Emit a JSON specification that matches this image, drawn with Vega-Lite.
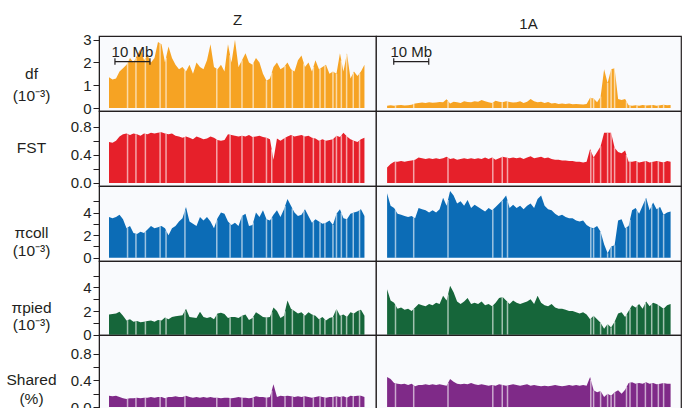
{
"$schema":"https://vega.github.io/schema/vega-lite/v6.json",
"padding":{"left":5,"top":12,"right":5,"bottom":0},
"columns":2,"spacing":0,"bounds":"flush",
"config":{
 "view":{"stroke":"#231f20","strokeWidth":1.2,"fill":"#f9fafd"},
 "axis":{"labelFont":"Liberation Sans","titleFont":"Liberation Sans","labelFontSize":15,"labelColor":"#231f20","tickColor":"#231f20","domainColor":"#231f20","tickSize":6,"labelPadding":2,"grid":false,"labelFlush":false,"labelOverlap":false,"labelBound":false,"titleFontWeight":"normal","titleFontSize":15.5,"titleColor":"#231f20","titleAngle":0,"titleAlign":"center","titleBaseline":"middle","titleX":-68},
 "title":{"font":"Liberation Sans","fontSize":15,"fontWeight":"normal","color":"#231f20","offset":4.5}
},
"datasets":{
"Z":[
{"x":0,"df":1.35,"fst":0.58,"pc":3.6,"pp":1.7,"sh":0.17},
{"x":1,"df":1.25,"fst":0.57,"pc":3.5,"pp":1.75,"sh":0.16},
{"x":2,"df":1.3,"fst":0.6,"pc":3.6,"pp":1.8,"sh":0.17},
{"x":3,"df":1.6,"fst":0.66,"pc":3.8,"pp":1.95,"sh":0.15},
{"x":4,"df":1.75,"fst":0.69,"pc":3.4,"pp":1.6,"sh":0.13},
{"x":5,"df":1.9,"fst":0.7,"pc":2.6,"pp":1.2,"sh":0.12},
{"x":6,"df":2.2,"fst":0.68,"pc":2.8,"pp":1.3,"sh":0.13},
{"x":7,"df":2.0,"fst":0.7,"pc":2.2,"pp":1.1,"sh":0.13},
{"x":8,"df":2.3,"fst":0.69,"pc":2.1,"pp":1.15,"sh":0.14},
{"x":9,"df":2.6,"fst":0.67,"pc":2.3,"pp":1.05,"sh":0.13},
{"x":10,"df":2.1,"fst":0.7,"pc":2.2,"pp":1.1,"sh":0.14},
{"x":11,"df":2.3,"fst":0.69,"pc":2.5,"pp":1.15,"sh":0.14},
{"x":12,"df":2.0,"fst":0.71,"pc":2.8,"pp":1.2,"sh":0.15},
{"x":13,"df":2.2,"fst":0.7,"pc":2.6,"pp":1.1,"sh":0.14},
{"x":14,"df":2.9,"fst":0.71,"pc":2.7,"pp":1.25,"sh":0.15},
{"x":15,"df":2.8,"fst":0.72,"pc":2.8,"pp":1.2,"sh":0.15},
{"x":16,"df":2.0,"fst":0.7,"pc":2.6,"pp":1.45,"sh":0.13},
{"x":17,"df":2.7,"fst":0.69,"pc":2.0,"pp":1.3,"sh":0.15},
{"x":18,"df":2.2,"fst":0.7,"pc":2.6,"pp":1.5,"sh":0.15},
{"x":19,"df":1.9,"fst":0.67,"pc":2.8,"pp":1.55,"sh":0.16},
{"x":20,"df":1.7,"fst":0.66,"pc":3.2,"pp":1.6,"sh":0.15},
{"x":21,"df":1.8,"fst":0.64,"pc":3.5,"pp":1.65,"sh":0.15},
{"x":22,"df":1.6,"fst":0.66,"pc":4.5,"pp":2.2,"sh":0.17},
{"x":23,"df":1.9,"fst":0.64,"pc":3.2,"pp":1.5,"sh":0.15},
{"x":24,"df":1.5,"fst":0.62,"pc":3.0,"pp":1.45,"sh":0.14},
{"x":25,"df":2.0,"fst":0.66,"pc":2.8,"pp":1.4,"sh":0.15},
{"x":26,"df":1.8,"fst":0.64,"pc":3.6,"pp":1.95,"sh":0.14},
{"x":27,"df":1.7,"fst":0.62,"pc":3.3,"pp":1.5,"sh":0.15},
{"x":28,"df":2.1,"fst":0.63,"pc":3.6,"pp":1.4,"sh":0.14},
{"x":29,"df":2.8,"fst":0.66,"pc":3.2,"pp":1.5,"sh":0.15},
{"x":30,"df":1.8,"fst":0.64,"pc":2.6,"pp":1.3,"sh":0.14},
{"x":31,"df":1.7,"fst":0.61,"pc":3.5,"pp":1.8,"sh":0.14},
{"x":32,"df":1.9,"fst":0.6,"pc":4.0,"pp":1.85,"sh":0.13},
{"x":33,"df":1.6,"fst":0.61,"pc":3.9,"pp":1.75,"sh":0.14},
{"x":34,"df":2.8,"fst":0.69,"pc":3.2,"pp":1.4,"sh":0.14},
{"x":35,"df":2.0,"fst":0.68,"pc":2.9,"pp":1.5,"sh":0.13},
{"x":36,"df":3.0,"fst":0.67,"pc":3.1,"pp":1.5,"sh":0.14},
{"x":37,"df":1.8,"fst":0.66,"pc":2.8,"pp":1.4,"sh":0.15},
{"x":38,"df":2.1,"fst":0.67,"pc":3.7,"pp":1.6,"sh":0.14},
{"x":39,"df":2.4,"fst":0.66,"pc":3.9,"pp":1.7,"sh":0.14},
{"x":40,"df":2.0,"fst":0.68,"pc":2.8,"pp":1.25,"sh":0.13},
{"x":41,"df":1.9,"fst":0.65,"pc":2.9,"pp":1.4,"sh":0.14},
{"x":42,"df":2.2,"fst":0.66,"pc":4.0,"pp":1.9,"sh":0.16},
{"x":43,"df":2.0,"fst":0.67,"pc":3.6,"pp":1.7,"sh":0.15},
{"x":44,"df":1.5,"fst":0.65,"pc":4.2,"pp":1.5,"sh":0.15},
{"x":45,"df":1.2,"fst":0.64,"pc":3.4,"pp":1.45,"sh":0.14},
{"x":46,"df":1.3,"fst":0.62,"pc":3.3,"pp":1.5,"sh":0.15},
{"x":47,"df":1.8,"fst":0.33,"pc":3.8,"pp":2.3,"sh":0.34},
{"x":48,"df":2.0,"fst":0.63,"pc":4.2,"pp":2.0,"sh":0.15},
{"x":49,"df":1.7,"fst":0.6,"pc":3.6,"pp":1.4,"sh":0.17},
{"x":50,"df":1.8,"fst":0.63,"pc":4.3,"pp":1.6,"sh":0.16},
{"x":51,"df":2.0,"fst":0.66,"pc":5.2,"pp":2.9,"sh":0.17},
{"x":52,"df":1.7,"fst":0.68,"pc":4.6,"pp":2.2,"sh":0.16},
{"x":53,"df":1.6,"fst":0.66,"pc":4.0,"pp":2.0,"sh":0.15},
{"x":54,"df":2.1,"fst":0.67,"pc":3.7,"pp":1.8,"sh":0.16},
{"x":55,"df":2.3,"fst":0.68,"pc":3.8,"pp":1.9,"sh":0.15},
{"x":56,"df":1.8,"fst":0.66,"pc":4.3,"pp":1.6,"sh":0.16},
{"x":57,"df":2.0,"fst":0.67,"pc":3.7,"pp":1.9,"sh":0.15},
{"x":58,"df":1.6,"fst":0.64,"pc":3.1,"pp":1.7,"sh":0.14},
{"x":59,"df":2.1,"fst":0.63,"pc":3.4,"pp":1.6,"sh":0.15},
{"x":60,"df":1.7,"fst":0.6,"pc":3.2,"pp":1.3,"sh":0.16},
{"x":61,"df":1.8,"fst":0.62,"pc":3.0,"pp":1.5,"sh":0.15},
{"x":62,"df":1.9,"fst":0.6,"pc":3.1,"pp":1.2,"sh":0.14},
{"x":63,"df":1.5,"fst":0.61,"pc":3.3,"pp":1.4,"sh":0.15},
{"x":64,"df":1.6,"fst":0.62,"pc":2.9,"pp":1.5,"sh":0.15},
{"x":65,"df":1.5,"fst":0.67,"pc":3.9,"pp":2.2,"sh":0.16},
{"x":66,"df":2.4,"fst":0.65,"pc":4.3,"pp":1.6,"sh":0.15},
{"x":67,"df":1.6,"fst":0.71,"pc":3.5,"pp":1.7,"sh":0.16},
{"x":68,"df":2.4,"fst":0.66,"pc":3.4,"pp":1.5,"sh":0.14},
{"x":69,"df":1.3,"fst":0.62,"pc":3.9,"pp":1.9,"sh":0.17},
{"x":70,"df":1.6,"fst":0.6,"pc":4.0,"pp":1.8,"sh":0.16},
{"x":71,"df":1.4,"fst":0.58,"pc":4.1,"pp":2.0,"sh":0.17},
{"x":72,"df":1.6,"fst":0.62,"pc":4.3,"pp":2.1,"sh":0.17},
{"x":73,"df":1.9,"fst":0.64,"pc":3.7,"pp":1.6,"sh":0.15}
],
"A":[
{"x":0,"df":0.1,"fst":0.22,"pc":5.7,"pp":3.85,"sh":0.45},
{"x":1,"df":0.12,"fst":0.27,"pc":4.6,"pp":2.9,"sh":0.42},
{"x":2,"df":0.1,"fst":0.3,"pc":4.4,"pp":2.7,"sh":0.36},
{"x":3,"df":0.12,"fst":0.3,"pc":3.9,"pp":2.2,"sh":0.35},
{"x":4,"df":0.13,"fst":0.31,"pc":3.8,"pp":2.3,"sh":0.34},
{"x":5,"df":0.11,"fst":0.3,"pc":3.7,"pp":2.1,"sh":0.35},
{"x":6,"df":0.12,"fst":0.31,"pc":3.6,"pp":2.2,"sh":0.33},
{"x":7,"df":0.14,"fst":0.32,"pc":3.7,"pp":2.0,"sh":0.35},
{"x":8,"df":0.2,"fst":0.33,"pc":3.5,"pp":2.3,"sh":0.31},
{"x":9,"df":0.22,"fst":0.36,"pc":4.4,"pp":2.6,"sh":0.33},
{"x":10,"df":0.24,"fst":0.35,"pc":4.3,"pp":2.5,"sh":0.33},
{"x":11,"df":0.22,"fst":0.34,"pc":4.2,"pp":2.4,"sh":0.34},
{"x":12,"df":0.25,"fst":0.35,"pc":4.0,"pp":2.6,"sh":0.33},
{"x":13,"df":0.23,"fst":0.34,"pc":4.2,"pp":2.5,"sh":0.34},
{"x":14,"df":0.24,"fst":0.35,"pc":4.0,"pp":2.7,"sh":0.33},
{"x":15,"df":0.26,"fst":0.34,"pc":4.3,"pp":2.6,"sh":0.34},
{"x":16,"df":0.25,"fst":0.35,"pc":5.3,"pp":3.3,"sh":0.33},
{"x":17,"df":0.38,"fst":0.37,"pc":4.6,"pp":2.9,"sh":0.32},
{"x":18,"df":0.2,"fst":0.34,"pc":5.9,"pp":4.15,"sh":0.42},
{"x":19,"df":0.28,"fst":0.35,"pc":5.5,"pp":3.6,"sh":0.38},
{"x":20,"df":0.25,"fst":0.33,"pc":4.8,"pp":2.8,"sh":0.35},
{"x":21,"df":0.22,"fst":0.34,"pc":5.0,"pp":2.6,"sh":0.34},
{"x":22,"df":0.3,"fst":0.35,"pc":4.6,"pp":2.8,"sh":0.35},
{"x":23,"df":0.27,"fst":0.34,"pc":5.1,"pp":3.1,"sh":0.34},
{"x":24,"df":0.25,"fst":0.35,"pc":4.4,"pp":2.6,"sh":0.36},
{"x":25,"df":0.3,"fst":0.34,"pc":4.7,"pp":2.7,"sh":0.34},
{"x":26,"df":0.28,"fst":0.35,"pc":4.5,"pp":2.6,"sh":0.33},
{"x":27,"df":0.35,"fst":0.34,"pc":4.3,"pp":2.8,"sh":0.34},
{"x":28,"df":0.3,"fst":0.36,"pc":4.1,"pp":2.5,"sh":0.33},
{"x":29,"df":0.25,"fst":0.34,"pc":4.4,"pp":2.6,"sh":0.32},
{"x":30,"df":0.22,"fst":0.36,"pc":4.2,"pp":2.4,"sh":0.33},
{"x":31,"df":0.32,"fst":0.33,"pc":4.5,"pp":2.7,"sh":0.32},
{"x":32,"df":0.28,"fst":0.35,"pc":4.8,"pp":3.1,"sh":0.34},
{"x":33,"df":0.25,"fst":0.37,"pc":5.1,"pp":3.2,"sh":0.33},
{"x":34,"df":0.3,"fst":0.36,"pc":5.5,"pp":2.9,"sh":0.32},
{"x":35,"df":0.27,"fst":0.35,"pc":4.4,"pp":2.6,"sh":0.33},
{"x":36,"df":0.24,"fst":0.36,"pc":4.7,"pp":2.9,"sh":0.34},
{"x":37,"df":0.25,"fst":0.35,"pc":4.4,"pp":2.7,"sh":0.33},
{"x":38,"df":0.3,"fst":0.36,"pc":4.6,"pp":2.6,"sh":0.32},
{"x":39,"df":0.22,"fst":0.34,"pc":4.3,"pp":2.7,"sh":0.33},
{"x":40,"df":0.28,"fst":0.36,"pc":4.6,"pp":2.8,"sh":0.34},
{"x":41,"df":0.4,"fst":0.38,"pc":4.8,"pp":3.0,"sh":0.32},
{"x":42,"df":0.3,"fst":0.35,"pc":4.4,"pp":2.6,"sh":0.33},
{"x":43,"df":0.25,"fst":0.36,"pc":5.2,"pp":3.3,"sh":0.32},
{"x":44,"df":0.28,"fst":0.37,"pc":5.5,"pp":2.7,"sh":0.31},
{"x":45,"df":0.22,"fst":0.35,"pc":4.6,"pp":2.5,"sh":0.32},
{"x":46,"df":0.26,"fst":0.36,"pc":4.3,"pp":2.4,"sh":0.31},
{"x":47,"df":0.2,"fst":0.34,"pc":4.2,"pp":2.6,"sh":0.32},
{"x":48,"df":0.22,"fst":0.33,"pc":3.9,"pp":2.3,"sh":0.33},
{"x":49,"df":0.18,"fst":0.33,"pc":3.7,"pp":2.2,"sh":0.32},
{"x":50,"df":0.2,"fst":0.32,"pc":3.8,"pp":2.2,"sh":0.31},
{"x":51,"df":0.18,"fst":0.32,"pc":3.6,"pp":2.1,"sh":0.32},
{"x":52,"df":0.2,"fst":0.31,"pc":3.5,"pp":2.0,"sh":0.33},
{"x":53,"df":0.17,"fst":0.31,"pc":3.5,"pp":2.0,"sh":0.32},
{"x":54,"df":0.18,"fst":0.3,"pc":3.3,"pp":1.9,"sh":0.33},
{"x":55,"df":0.17,"fst":0.3,"pc":3.2,"pp":1.8,"sh":0.32},
{"x":56,"df":0.16,"fst":0.29,"pc":3.3,"pp":1.9,"sh":0.33},
{"x":57,"df":0.18,"fst":0.3,"pc":2.9,"pp":1.7,"sh":0.32},
{"x":58,"df":0.45,"fst":0.48,"pc":2.7,"pp":1.3,"sh":0.45},
{"x":59,"df":0.42,"fst":0.36,"pc":2.6,"pp":1.6,"sh":0.25},
{"x":60,"df":0.25,"fst":0.44,"pc":2.8,"pp":1.3,"sh":0.22},
{"x":61,"df":0.5,"fst":0.52,"pc":2.3,"pp":1.0,"sh":0.24},
{"x":62,"df":1.7,"fst":0.71,"pc":1.2,"pp":0.5,"sh":0.15},
{"x":63,"df":1.1,"fst":0.71,"pc":0.4,"pp":0.9,"sh":0.2},
{"x":64,"df":1.7,"fst":0.71,"pc":1.0,"pp":0.6,"sh":0.17},
{"x":65,"df":1.75,"fst":0.5,"pc":1.1,"pp":1.1,"sh":0.22},
{"x":66,"df":0.4,"fst":0.44,"pc":3.3,"pp":1.8,"sh":0.25},
{"x":67,"df":0.35,"fst":0.42,"pc":3.4,"pp":1.9,"sh":0.2},
{"x":68,"df":0.4,"fst":0.46,"pc":2.6,"pp":1.5,"sh":0.26},
{"x":69,"df":0.12,"fst":0.3,"pc":2.8,"pp":2.0,"sh":0.36},
{"x":70,"df":0.1,"fst":0.3,"pc":4.2,"pp":2.5,"sh":0.37},
{"x":71,"df":0.12,"fst":0.31,"pc":4.4,"pp":2.3,"sh":0.35},
{"x":72,"df":0.1,"fst":0.29,"pc":3.9,"pp":2.6,"sh":0.36},
{"x":73,"df":0.13,"fst":0.3,"pc":4.6,"pp":2.2,"sh":0.35},
{"x":74,"df":0.11,"fst":0.31,"pc":5.3,"pp":2.8,"sh":0.37},
{"x":75,"df":0.12,"fst":0.29,"pc":4.2,"pp":2.4,"sh":0.35},
{"x":76,"df":0.13,"fst":0.3,"pc":4.9,"pp":2.7,"sh":0.36},
{"x":77,"df":0.1,"fst":0.31,"pc":4.3,"pp":2.6,"sh":0.34},
{"x":78,"df":0.12,"fst":0.3,"pc":4.5,"pp":2.4,"sh":0.35},
{"x":79,"df":0.14,"fst":0.29,"pc":3.8,"pp":2.2,"sh":0.36},
{"x":80,"df":0.12,"fst":0.31,"pc":4.0,"pp":2.5,"sh":0.35},
{"x":81,"df":0.13,"fst":0.3,"pc":4.1,"pp":2.6,"sh":0.35}
],
"Zgap":[
{"x":5.3,"df":3.0,"fst":0.69,"pc":2.66,"pp":1.23,"sh":0.123},
{"x":7.7,"df":2.2,"fst":0.69,"pc":2.13,"pp":1.13,"sh":0.137},
{"x":10.4,"df":2.18,"fst":0.7,"pc":2.32,"pp":1.12,"sh":0.14},
{"x":14.6,"df":2.84,"fst":0.716,"pc":2.76,"pp":1.22,"sh":0.15},
{"x":16.3,"df":2.21,"fst":0.697,"pc":2.42,"pp":1.4,"sh":0.136},
{"x":21.7,"df":1.66,"fst":0.654,"pc":4.2,"pp":2.03,"sh":0.164},
{"x":30.8,"df":1.72,"fst":0.616,"pc":3.32,"pp":1.7,"sh":0.14},
{"x":34.6,"df":2.32,"fst":0.684,"pc":3.02,"pp":1.46,"sh":0.134},
{"x":38.0,"df":2.1,"fst":0.67,"pc":3.7,"pp":1.6,"sh":0.14},
{"x":41.2,"df":1.96,"fst":0.652,"pc":3.12,"pp":1.5,"sh":0.144},
{"x":45.0,"df":1.2,"fst":0.64,"pc":3.4,"pp":1.45,"sh":0.14},
{"x":46.5,"df":1.55,"fst":0.475,"pc":3.55,"pp":1.9,"sh":0.245},
{"x":50.3,"df":1.86,"fst":0.64,"pc":4.57,"pp":1.99,"sh":0.163},
{"x":52.4,"df":1.66,"fst":0.672,"pc":4.36,"pp":2.12,"sh":0.156},
{"x":55.7,"df":1.95,"fst":0.666,"pc":4.15,"pp":1.69,"sh":0.157},
{"x":58.4,"df":1.8,"fst":0.636,"pc":3.22,"pp":1.66,"sh":0.144},
{"x":60.3,"df":1.73,"fst":0.606,"pc":3.14,"pp":1.36,"sh":0.157},
{"x":61.7,"df":1.87,"fst":0.606,"pc":3.07,"pp":1.29,"sh":0.143},
{"x":64.0,"df":1.6,"fst":0.62,"pc":2.9,"pp":1.5,"sh":0.15},
{"x":65.0,"df":1.5,"fst":0.67,"pc":3.9,"pp":2.2,"sh":0.16},
{"x":66.4,"df":2.08,"fst":0.674,"pc":3.98,"pp":1.64,"sh":0.154},
{"x":67.9,"df":2.32,"fst":0.665,"pc":3.41,"pp":1.52,"sh":0.142},
{"x":69.8,"df":1.54,"fst":0.604,"pc":3.98,"pp":1.82,"sh":0.162},
{"x":71.6,"df":1.52,"fst":0.604,"pc":4.22,"pp":2.06,"sh":0.17}
],
"Agap":[
{"x":2.4,"df":0.11,"fst":0.3,"pc":4.2,"pp":2.5,"sh":0.356},
{"x":7.6,"df":0.18,"fst":0.326,"pc":3.58,"pp":2.18,"sh":0.326},
{"x":17.4,"df":0.31,"fst":0.358,"pc":5.12,"pp":3.4,"sh":0.36},
{"x":30.2,"df":0.24,"fst":0.354,"pc":4.26,"pp":2.46,"sh":0.328},
{"x":32.9,"df":0.25,"fst":0.368,"pc":5.07,"pp":3.19,"sh":0.331},
{"x":34.4,"df":0.29,"fst":0.356,"pc":5.06,"pp":2.78,"sh":0.324},
{"x":58.2,"df":0.44,"fst":0.456,"pc":2.68,"pp":1.36,"sh":0.41},
{"x":59.0,"df":0.42,"fst":0.36,"pc":2.6,"pp":1.6,"sh":0.25},
{"x":61.0,"df":0.5,"fst":0.52,"pc":2.3,"pp":1.0,"sh":0.24},
{"x":63.0,"df":1.1,"fst":0.71,"pc":0.4,"pp":0.9,"sh":0.2},
{"x":64.0,"df":1.7,"fst":0.71,"pc":1.0,"pp":0.6,"sh":0.17},
{"x":65.0,"df":1.75,"fst":0.5,"pc":1.1,"pp":1.1,"sh":0.22},
{"x":68.4,"df":0.29,"fst":0.396,"pc":2.68,"pp":1.7,"sh":0.3},
{"x":69.4,"df":0.11,"fst":0.3,"pc":3.36,"pp":2.2,"sh":0.364},
{"x":71.4,"df":0.11,"fst":0.302,"pc":4.2,"pp":2.42,"sh":0.354},
{"x":73.8,"df":0.114,"fst":0.308,"pc":5.16,"pp":2.68,"sh":0.366},
{"x":75.6,"df":0.126,"fst":0.296,"pc":4.62,"pp":2.58,"sh":0.356},
{"x":77.5,"df":0.11,"fst":0.305,"pc":4.4,"pp":2.5,"sh":0.345},
{"x":79.0,"df":0.14,"fst":0.29,"pc":3.8,"pp":2.2,"sh":0.36}
],
"barZ":[{"x1":1.7,"x2":11.7,"xm":6.7,"y":2.04,"ylo":1.9,"yhi":2.18,"ty":2.22,"label":"10 Mb"}],
"barA":[{"x1":1.9,"x2":11.9,"xm":6.9,"y":2.04,"ylo":1.9,"yhi":2.18,"ty":2.22,"label":"10 Mb"}]
},
"concat":[
{"width":277,"height":75,"title":"Z","resolve":{"axis":{"y":"independent"}},"layer":[
 {"data":{"name":"Z"},"mark":{"type":"area","color":"#f6a323"},"encoding":{"x":{"field":"x","type":"quantitative","scale":{"domain":[-2.86,76.3],"nice":false},"axis":null},"y":{"field":"df","type":"quantitative","scale":{"domain":[-0.13,3.16],"nice":false},"axis":{"values":[0,1,2,3],"title":["df","(10⁻³)"],"titleY":37,"titleLineHeight":22}}}},
 {"data":{"name":"Zgap"},"mark":{"type":"rule","color":"white","opacity":0.6,"strokeWidth":1.5},"encoding":{"x":{"field":"x","type":"quantitative"},"y":{"field":"df","type":"quantitative","axis":null},"y2":{"datum":0}}},
 {"data":{"name":"barZ"},"mark":{"type":"rule","color":"#231f20","strokeWidth":1.2},"encoding":{"x":{"field":"x1","type":"quantitative"},"x2":{"field":"x2"},"y":{"field":"y","type":"quantitative","axis":null}}},
 {"data":{"name":"barZ"},"mark":{"type":"rule","color":"#231f20","strokeWidth":1.2},"encoding":{"x":{"field":"x1","type":"quantitative"},"y":{"field":"ylo","type":"quantitative","axis":null},"y2":{"field":"yhi"}}},
 {"data":{"name":"barZ"},"mark":{"type":"rule","color":"#231f20","strokeWidth":1.2},"encoding":{"x":{"field":"x2","type":"quantitative"},"y":{"field":"ylo","type":"quantitative","axis":null},"y2":{"field":"yhi"}}},
 {"data":{"name":"barZ"},"mark":{"type":"text","font":"Liberation Sans","fontSize":15,"baseline":"alphabetic","color":"#231f20"},"encoding":{"x":{"field":"xm","type":"quantitative"},"y":{"field":"ty","type":"quantitative","axis":null},"text":{"field":"label"}}}
]},
{"width":305,"height":75,"title":"1A","layer":[
 {"data":{"name":"A"},"mark":{"type":"area","color":"#f6a323"},"encoding":{"x":{"field":"x","type":"quantitative","scale":{"domain":[-3.17,83.97],"nice":false},"axis":null},"y":{"field":"df","type":"quantitative","scale":{"domain":[-0.13,3.16],"nice":false},"axis":null}}},
 {"data":{"name":"Agap"},"mark":{"type":"rule","color":"white","opacity":0.6,"strokeWidth":1.5},"encoding":{"x":{"field":"x","type":"quantitative"},"y":{"field":"df","type":"quantitative","axis":null},"y2":{"datum":0}}},
 {"data":{"name":"barA"},"mark":{"type":"rule","color":"#231f20","strokeWidth":1.2},"encoding":{"x":{"field":"x1","type":"quantitative"},"x2":{"field":"x2"},"y":{"field":"y","type":"quantitative","axis":null}}},
 {"data":{"name":"barA"},"mark":{"type":"rule","color":"#231f20","strokeWidth":1.2},"encoding":{"x":{"field":"x1","type":"quantitative"},"y":{"field":"ylo","type":"quantitative","axis":null},"y2":{"field":"yhi"}}},
 {"data":{"name":"barA"},"mark":{"type":"rule","color":"#231f20","strokeWidth":1.2},"encoding":{"x":{"field":"x2","type":"quantitative"},"y":{"field":"ylo","type":"quantitative","axis":null},"y2":{"field":"yhi"}}},
 {"data":{"name":"barA"},"mark":{"type":"text","font":"Liberation Sans","fontSize":15,"baseline":"alphabetic","color":"#231f20"},"encoding":{"x":{"field":"xm","type":"quantitative"},"y":{"field":"ty","type":"quantitative","axis":null},"text":{"field":"label"}}}
]},
{"width":277,"height":75,"resolve":{"axis":{"y":"independent"}},"layer":[
 {"data":{"name":"Z"},"mark":{"type":"area","color":"#e6202a"},"encoding":{"x":{"field":"x","type":"quantitative","scale":{"domain":[-2.86,76.3],"nice":false},"axis":null},"y":{"field":"fst","type":"quantitative","scale":{"domain":[-0.043,1.02],"nice":false},"axis":{"values":[0,0.2,0.4,0.6,0.8],"labelExpr":"datum.value==0.2||datum.value==0.6?'':format(datum.value,'.1f')","title":"FST","titleY":36}}}},
 {"data":{"name":"Zgap"},"mark":{"type":"rule","color":"white","opacity":0.6,"strokeWidth":1.5},"encoding":{"x":{"field":"x","type":"quantitative"},"y":{"field":"fst","type":"quantitative","axis":null},"y2":{"datum":0}}}
]},
{"width":305,"height":75,"layer":[
 {"data":{"name":"A"},"mark":{"type":"area","color":"#e6202a"},"encoding":{"x":{"field":"x","type":"quantitative","scale":{"domain":[-3.17,83.97],"nice":false},"axis":null},"y":{"field":"fst","type":"quantitative","scale":{"domain":[-0.043,1.02],"nice":false},"axis":null}}},
 {"data":{"name":"Agap"},"mark":{"type":"rule","color":"white","opacity":0.6,"strokeWidth":1.5},"encoding":{"x":{"field":"x","type":"quantitative"},"y":{"field":"fst","type":"quantitative","axis":null},"y2":{"datum":0}}}
]},
{"width":277,"height":75,"resolve":{"axis":{"y":"independent"}},"layer":[
 {"data":{"name":"Z"},"mark":{"type":"area","color":"#0c6cb6"},"encoding":{"x":{"field":"x","type":"quantitative","scale":{"domain":[-2.86,76.3],"nice":false},"axis":null},"y":{"field":"pc","type":"quantitative","scale":{"domain":[-0.29,6.35],"nice":false},"axis":{"values":[0,1,2,3,4,5],"labelExpr":"datum.value%2==0?datum.label:''","title":["πcoll","(10⁻³)"],"titleY":46,"titleLineHeight":18}}}},
 {"data":{"name":"Zgap"},"mark":{"type":"rule","color":"white","opacity":0.6,"strokeWidth":1.5},"encoding":{"x":{"field":"x","type":"quantitative"},"y":{"field":"pc","type":"quantitative","axis":null},"y2":{"datum":0}}}
]},
{"width":305,"height":75,"layer":[
 {"data":{"name":"A"},"mark":{"type":"area","color":"#0c6cb6"},"encoding":{"x":{"field":"x","type":"quantitative","scale":{"domain":[-3.17,83.97],"nice":false},"axis":null},"y":{"field":"pc","type":"quantitative","scale":{"domain":[-0.29,6.35],"nice":false},"axis":null}}},
 {"data":{"name":"Agap"},"mark":{"type":"rule","color":"white","opacity":0.6,"strokeWidth":1.5},"encoding":{"x":{"field":"x","type":"quantitative"},"y":{"field":"pc","type":"quantitative","axis":null},"y2":{"datum":0}}}
]},
{"width":277,"height":74,"resolve":{"axis":{"y":"independent"}},"layer":[
 {"data":{"name":"Z"},"mark":{"type":"area","color":"#16663a"},"encoding":{"x":{"field":"x","type":"quantitative","scale":{"domain":[-2.86,76.3],"nice":false},"axis":null},"y":{"field":"pp","type":"quantitative","scale":{"domain":[-0.03,6.24],"nice":false},"axis":{"values":[0,1,2,3,4,5],"labelExpr":"datum.value%2==0?datum.label:''","title":["πpied","(10⁻³)"],"titleY":46,"titleLineHeight":17}}}},
 {"data":{"name":"Zgap"},"mark":{"type":"rule","color":"white","opacity":0.6,"strokeWidth":1.5},"encoding":{"x":{"field":"x","type":"quantitative"},"y":{"field":"pp","type":"quantitative","axis":null},"y2":{"datum":0}}}
]},
{"width":305,"height":74,"layer":[
 {"data":{"name":"A"},"mark":{"type":"area","color":"#16663a"},"encoding":{"x":{"field":"x","type":"quantitative","scale":{"domain":[-3.17,83.97],"nice":false},"axis":null},"y":{"field":"pp","type":"quantitative","scale":{"domain":[-0.03,6.24],"nice":false},"axis":null}}},
 {"data":{"name":"Agap"},"mark":{"type":"rule","color":"white","opacity":0.6,"strokeWidth":1.5},"encoding":{"x":{"field":"x","type":"quantitative"},"y":{"field":"pp","type":"quantitative","axis":null},"y2":{"datum":0}}}
]},
{"width":277,"height":75,"resolve":{"axis":{"y":"independent"}},"layer":[
 {"data":{"name":"Z"},"mark":{"type":"area","color":"#7f2a88"},"encoding":{"x":{"field":"x","type":"quantitative","scale":{"domain":[-2.86,76.3],"nice":false},"axis":null},"y":{"field":"sh","type":"quantitative","scale":{"domain":[-0.045,1.08],"nice":false},"axis":{"values":[0,0.2,0.4,0.6,0.8],"labelExpr":"datum.value==0.2||datum.value==0.6?'':format(datum.value,'.1f')","title":["Shared","(%)"],"titleY":44.5,"titleLineHeight":19}}}},
 {"data":{"name":"Zgap"},"mark":{"type":"rule","color":"white","opacity":0.6,"strokeWidth":1.5},"encoding":{"x":{"field":"x","type":"quantitative"},"y":{"field":"sh","type":"quantitative","axis":null},"y2":{"datum":0}}}
]},
{"width":305,"height":75,"layer":[
 {"data":{"name":"A"},"mark":{"type":"area","color":"#7f2a88"},"encoding":{"x":{"field":"x","type":"quantitative","scale":{"domain":[-3.17,83.97],"nice":false},"axis":null},"y":{"field":"sh","type":"quantitative","scale":{"domain":[-0.045,1.08],"nice":false},"axis":null}}},
 {"data":{"name":"Agap"},"mark":{"type":"rule","color":"white","opacity":0.6,"strokeWidth":1.5},"encoding":{"x":{"field":"x","type":"quantitative"},"y":{"field":"sh","type":"quantitative","axis":null},"y2":{"datum":0}}}
]}
]
}
